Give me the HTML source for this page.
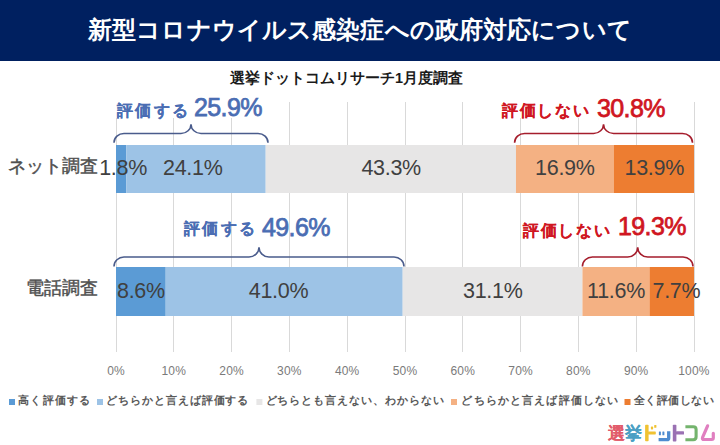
<!DOCTYPE html>
<html lang="ja">
<head>
<meta charset="utf-8">
<style>
html,body{margin:0;padding:0;}
body{width:720px;height:445px;overflow:hidden;background:#fff;position:relative;font-family:"Liberation Sans",sans-serif;}
.a{position:absolute;white-space:nowrap;line-height:1;}
#hdr{position:absolute;left:0;top:0;width:720px;height:61px;background:#002060;}
.title{font-size:24px;font-weight:bold;color:#fff;letter-spacing:0.13px;} .sub{font-size:14.5px;font-weight:bold;color:#1a1a1a;} .cat{font-size:17.7px;color:#505050;-webkit-text-stroke:0.45px #505050;} .val{font-size:21.5px;color:#404040;letter-spacing:-0.3px;} .ax{font-size:12px;color:#7A7A7A;letter-spacing:0.2px;} .lg{font-size:11.2px;color:#595959;font-weight:bold;letter-spacing:0.6px;} .sq{width:6px;height:6px;} .bl{color:#4A6DB3;font-weight:bold;} .rd{color:#D01622;font-weight:bold;} .s{font-size:16px;letter-spacing:2.3px;-webkit-text-stroke:0.1px currentColor;} .rd.s{letter-spacing:1.7px;} .b{font-size:25px;letter-spacing:-0.6px;font-weight:normal;-webkit-text-stroke:0.75px currentColor;} .logo{font-size:16.5px;font-weight:bold;letter-spacing:-0.9px;} .logo span{-webkit-text-stroke:1px currentColor;} .logo span.k{-webkit-text-stroke:0.1px currentColor;}
</style>
</head>
<body>
<div id="hdr"></div>
<svg width="720" height="445" style="position:absolute;left:0;top:0">
<g stroke="#D9D9D9" stroke-width="1">
<line x1="116.50" y1="102" x2="116.50" y2="352"/>
<line x1="173.50" y1="102" x2="173.50" y2="352"/>
<line x1="231.50" y1="102" x2="231.50" y2="352"/>
<line x1="289.50" y1="102" x2="289.50" y2="352"/>
<line x1="347.50" y1="102" x2="347.50" y2="352"/>
<line x1="405.50" y1="102" x2="405.50" y2="352"/>
<line x1="462.50" y1="102" x2="462.50" y2="352"/>
<line x1="520.50" y1="102" x2="520.50" y2="352"/>
<line x1="578.50" y1="102" x2="578.50" y2="352"/>
<line x1="636.50" y1="102" x2="636.50" y2="352"/>
<line x1="694.50" y1="102" x2="694.50" y2="352"/>
</g>
<rect x="116.00" y="145" width="10.40" height="48" fill="#5B9BD5"/>
<rect x="126.40" y="145" width="139.30" height="48" fill="#9DC3E6"/>
<rect x="265.70" y="145" width="250.27" height="48" fill="#E7E6E6"/>
<rect x="515.98" y="145" width="97.68" height="48" fill="#F4B183"/>
<rect x="613.66" y="145" width="80.34" height="48" fill="#ED7D31"/>
<rect x="116.00" y="267" width="49.71" height="49" fill="#5B9BD5"/>
<rect x="165.71" y="267" width="236.98" height="49" fill="#9DC3E6"/>
<rect x="402.69" y="267" width="179.76" height="49" fill="#E7E6E6"/>
<rect x="582.45" y="267" width="67.05" height="49" fill="#F4B183"/>
<rect x="649.49" y="267" width="44.51" height="49" fill="#ED7D31"/>
<g fill="none" stroke-width="1.6">
<path stroke="#4A5C8C" d="M114 142.7 C114 137.62 118.48 133.5 124 133.5 L181.0 133.5 C186.52 133.5 191.0 129.34 191.0 124.2 C191.0 129.34 195.48 133.5 201.0 133.5 L258 133.5 C263.52 133.5 268 137.62 268 142.7"/>
<path stroke="#4A5C8C" d="M114 266.5 C114 261.25 118.48 257 124 257 L249.0 257 C254.52 257 259.0 252.66 259.0 247.3 C259.0 252.66 263.48 257 269.0 257 L394 257 C399.52 257 404 261.25 404 266.5"/>
<path stroke="#A51D2C" d="M514.6 142.7 C514.6 137.62 519.08 133.5 524.6 133.5 L593.55 133.5 C599.07 133.5 603.55 129.34 603.55 124.2 C603.55 129.34 608.03 133.5 613.55 133.5 L682.5 133.5 C688.02 133.5 692.5 137.62 692.5 142.7"/>
<path stroke="#A51D2C" d="M582.4 266.5 C582.4 261.25 586.88 257 592.4 257 L627.7 257 C633.22 257 637.7 252.66 637.7 247.3 C637.7 252.66 642.18 257 647.7 257 L683 257 C688.52 257 693 261.25 693 266.5"/>
</g>
<rect id="mask1" x="113" y="100" width="154" height="18" fill="#fff"/><rect x="499" y="100" width="168" height="18" fill="#fff"/>
<rect x="9" y="399" width="6" height="6" fill="#5B9BD5"/>
<rect x="97" y="399" width="6" height="6" fill="#9DC3E6"/>
<rect x="256.4" y="399" width="6" height="6" fill="#E7E6E6"/>
<rect x="451" y="399" width="6" height="6" fill="#F4B183"/>
<rect x="624.5" y="399" width="6" height="6" fill="#ED7D31"/>
<g fill="#F0C232"><rect x="645.1" y="424.8" width="3.5" height="16.4" rx="0.8"/><rect x="648" y="431.4" width="7.8" height="3" rx="0.6"/><rect x="650.9" y="426.6" width="2.2" height="2.8" rx="0.6"/><rect x="654.2" y="425" width="2.2" height="2.8" rx="0.6"/></g>
<g fill="#4E8CD0"><rect x="658.9" y="431.4" width="2" height="3.8" rx="0.5"/><rect x="662.4" y="431.4" width="2" height="3.8" rx="0.5"/></g>
<path fill="none" stroke="#4E8CD0" stroke-width="3.3" d="M658.6 439.6 L667 439.6 Q668.7 439.6 668.7 437.9 L668.7 431.3"/>
<g fill="#9A71B3"><rect x="672.8" y="424.8" width="3.6" height="16.8" rx="0.8"/><rect x="676" y="431.2" width="8" height="3.3" rx="0.6"/></g>
<path fill="none" stroke="#74B46D" stroke-width="3.1" d="M685.4 426.7 L693.3 426.7 Q696.1 426.7 696.1 429.5 L696.1 436.8 Q696.1 439.7 693.3 439.7 L685.4 439.7"/>
<path fill="none" stroke="#E07FC0" stroke-width="3.2" stroke-linecap="round" d="M707.6 425.8 L702.6 437.4 Q701.8 439.5 704.1 439.5 L711.6 439.5 Q713.3 439.5 713.3 437.8 L713.3 433.3"/>
</svg>
<div class="a title" id="title" style="left:88px;top:17.6px;">新型コロナウイルス感染症への政府対応について</div>
<div class="a sub" id="sub" style="left:230px;top:71px;">選挙ドットコムリサーチ1月度調査</div>
<div class="a cat" id="cat1" style="left:8.3px;top:157.5px;">ネット調査</div>
<div class="a cat" id="cat2" style="left:25.5px;top:280px;">電話調査</div>
<div class="a val" id="v1" style="left:99.2px;top:157.9px;">1.8%</div>
<div class="a val" id="v2" style="left:163px;top:157.9px;">24.1%</div>
<div class="a val" id="v3" style="left:361.4px;top:157.9px;">43.3%</div>
<div class="a val" id="v4" style="left:535.1px;top:157.9px;">16.9%</div>
<div class="a val" id="v5" style="left:624.5px;top:157.9px;">13.9%</div>
<div class="a val" id="w1" style="left:117px;top:281.3px;">8.6%</div>
<div class="a val" id="w2" style="left:248.8px;top:281.3px;">41.0%</div>
<div class="a val" id="w3" style="left:463px;top:281.3px;">31.1%</div>
<div class="a val" id="w4" style="left:587.1px;top:281.3px;">11.6%</div>
<div class="a val" id="w5" style="left:652.5px;top:281.3px;">7.7%</div>
<div class="a bl s" id="bj1" style="left:117px;top:102.8px;">評価する</div>
<div class="a bl b" id="bn1" style="left:194px;top:95.3px;">25.9%</div>
<div class="a rd s" id="rj1" style="left:502px;top:103.4px;">評価しない</div>
<div class="a rd b" id="rn1" style="left:597px;top:96.0px;">30.8%</div>
<div class="a bl s" id="bj2" style="left:184px;top:221.2px;">評価する</div>
<div class="a bl b" id="bn2" style="left:262px;top:215.0px;">49.6%</div>
<div class="a rd s" id="rj2" style="left:523px;top:222.8px;">評価しない</div>
<div class="a rd b" id="rn2" style="left:618px;top:213.5px;">19.3%</div>
<div class="a ax" id="ax0" style="left:86.0px;top:364.6px;width:60px;text-align:center;">0%</div>
<div class="a ax" id="ax10" style="left:143.8px;top:364.6px;width:60px;text-align:center;">10%</div>
<div class="a ax" id="ax20" style="left:201.6px;top:364.6px;width:60px;text-align:center;">20%</div>
<div class="a ax" id="ax30" style="left:259.4px;top:364.6px;width:60px;text-align:center;">30%</div>
<div class="a ax" id="ax40" style="left:317.2px;top:364.6px;width:60px;text-align:center;">40%</div>
<div class="a ax" id="ax50" style="left:375.0px;top:364.6px;width:60px;text-align:center;">50%</div>
<div class="a ax" id="ax60" style="left:432.8px;top:364.6px;width:60px;text-align:center;">60%</div>
<div class="a ax" id="ax70" style="left:490.6px;top:364.6px;width:60px;text-align:center;">70%</div>
<div class="a ax" id="ax80" style="left:548.4px;top:364.6px;width:60px;text-align:center;">80%</div>
<div class="a ax" id="ax90" style="left:606.2px;top:364.6px;width:60px;text-align:center;">90%</div>
<div class="a ax" id="ax100" style="left:664.0px;top:364.6px;width:60px;text-align:center;">100%</div>
<div class="a lg" id="lg1" style="left:18px;top:395.0px;letter-spacing:1.3px;">高く評価する</div>
<div class="a lg" id="lg2" style="left:106px;top:395.0px;letter-spacing:0.95px;">どちらかと言えば評価する</div>
<div class="a lg" id="lg3" style="left:265.5px;top:395.0px;letter-spacing:0.95px;">どちらとも言えない、わからない</div>
<div class="a lg" id="lg4" style="left:461.4px;top:395.0px;letter-spacing:1.15px;">どちらかと言えば評価しない</div>
<div class="a lg" id="lg5" style="left:634px;top:395.0px;letter-spacing:0.45px;">全く評価しない</div>
<div class="a logo" id="logo" style="left:607px;top:424.5px;width:120px;height:20px;"><span class="k" style="position:absolute;left:0.5px;top:0;color:#E25B6B">選</span><span class="k" style="position:absolute;left:18px;top:0;color:#4A9FC4">挙</span></div>

</body>
</html>
